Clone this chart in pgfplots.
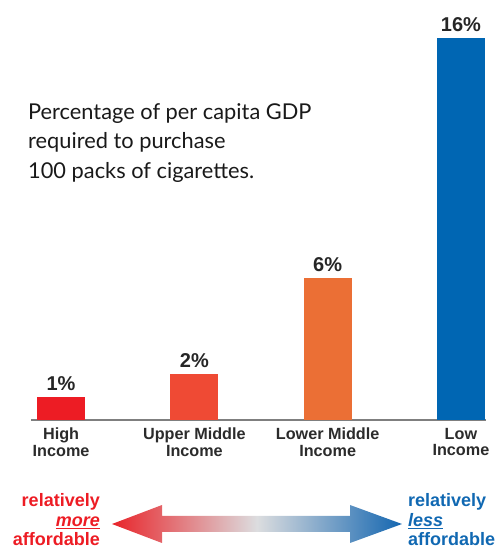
\documentclass[border=0pt]{standalone}
\usepackage{pgfplots}
\pgfplotsset{compat=1.18}
\usepackage{fontspec}
\setmainfont{Liberation Sans}
\newfontfamily\gill{Lato}
\definecolor{cHigh}{HTML}{ED1C24}
\definecolor{cUM}{HTML}{EF4A34}
\definecolor{cLM}{HTML}{EB6F35}
\definecolor{cLow}{HTML}{0066B3}
\definecolor{axgray}{HTML}{7F7F7F}
\definecolor{txtred}{HTML}{ED1C24}
\definecolor{txtblue}{HTML}{1068B2}
\definecolor{arL}{HTML}{E8242A}
\definecolor{arM}{HTML}{DCDDDF}
\definecolor{arR}{HTML}{1466B0}
\definecolor{lbl}{HTML}{2B2B2B}
\begin{document}
\begin{tikzpicture}[x=1pt,y=1pt]
\useasboundingbox (0,0) rectangle (500,550);
\begin{axis}[
  at={(31pt,130pt)}, anchor=south west,
  scale only axis, width=455pt, height=382pt,
  xmin=-0.2256, xmax=3.188, ymin=0, ymax=16,
  axis x line=bottom, axis y line=none,
  x axis line style={axgray, line width=2pt, -},
  xtick={0,1,2,3},
  xticklabels={{High\\Income},{Upper Middle\\Income},{Lower Middle\\Income},{Low\\Income}},
  xticklabel style={align=center, font=\fontsize{16.2}{16.5}\selectfont\bfseries, text=lbl, inner sep=0pt, yshift=-8pt},
  major tick length=0pt,
  ytick=\empty,
  clip=false,
  nodes near coords={\pgfplotspointmeta},
  point meta=explicit symbolic,
  nodes near coords style={font=\fontsize{20}{20}\selectfont\bfseries, text=black!85, anchor=south, inner sep=0pt, yshift=6pt},
]
\addplot[ybar, bar width=48pt, bar shift=0pt, fill=cHigh, draw=none] coordinates {(0,0.97) [1\%]};
\addplot[ybar, bar width=48pt, bar shift=0pt, fill=cUM, draw=none] coordinates {(1,1.93) [2\%]};
\addplot[ybar, bar width=48pt, bar shift=0pt, fill=cLM, draw=none] coordinates {(2,5.95) [6\%]};
\addplot[ybar, bar width=48pt, bar shift=0pt, fill=cLow, draw=none] coordinates {(3,16) [16\%]};
\end{axis}
\node[anchor=north west, inner sep=0pt, align=left, font=\gill\fontsize{21.8}{29.5}\selectfont, text=black!90] at (28,447)
  {Percentage of per capita GDP\\required to purchase\\100 packs of cigarettes.};
\shade[left color=arL, right color=arR, middle color=arM]
  (112,26) -- (162,45) -- (162,34) -- (350,34) -- (350,45) -- (402,26) -- (350,7) -- (350,18) -- (162,18) -- (162,7) -- cycle;
\begin{scope}[font=\fontsize{18}{19}\selectfont\bfseries]
\node[anchor=base east, inner sep=0pt, text=txtred] at (100,43) {relatively};
\node[anchor=base east, inner sep=0pt, text=txtred] at (100,23.5) {\underline{\itshape more}};
\node[anchor=base east, inner sep=0pt, text=txtred] at (100,4.5) {affordable};
\node[anchor=base west, inner sep=0pt, text=txtblue] at (408,43) {relatively};
\node[anchor=base west, inner sep=0pt, text=txtblue] at (408,23.5) {\underline{\itshape less}};
\node[anchor=base west, inner sep=0pt, text=txtblue] at (408,4.5) {affordable};
\end{scope}
\end{tikzpicture}
\end{document}
